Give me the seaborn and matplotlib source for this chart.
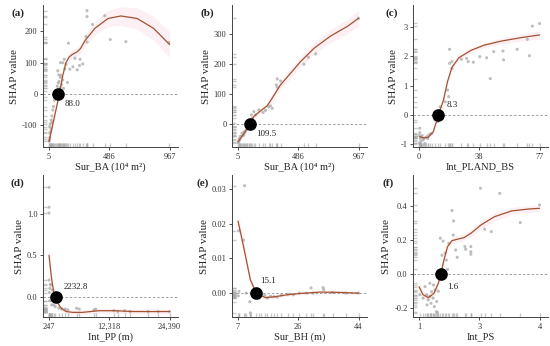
import matplotlib
matplotlib.use("Agg")
import matplotlib.pyplot as plt
import numpy as np
import seaborn as sns

# --- panel (a) Sur_BA
a_pts_x = [308, 308, 352, 450, 494, 618, 962, 160, 308, 300, 96, 114, 127, 212, 171, 196, 230, 248, 274, 253,
           152, 75, 83, 96, 114, 121, 36, 23, 10, 10, 8, 12, 18, 15, 28, 40, 48, 55, 62, 70, 78, 85, 92, 100,
           105, 130, 140, 6, 20, 30]
a_pts_y = [266, 247, 222, 250, 174, 167, 164, 162, 166, 183, 100, 100, 111, 114, 79, 87, 77, 91, 96, 111,
           37, 74, 61, 53, 45, 18, -51, -83, -104, -125, -145, -138, -120, -95, -70, -40, -20, -10, 10, 25, 35,
           40, 20, 60, 30, 80, 95, -150, -110, -90]
a_line_x = [5, 30, 60, 88, 115, 140, 165, 190, 230, 256, 295, 372, 476, 579, 708, 838, 967]
a_line_y = [-152, -106, -51, 0, 60, 100, 118, 126, 135, 145, 172, 210, 241, 249, 241, 210, 158]
a_band = [18, 12, 10, 8, 10, 12, 13, 14, 15, 15, 18, 22, 26, 30, 34, 38, 42]

# --- panel (b) Sur_BA
b_pts_x = [967, 625, 566, 531, 344, 318, 310, 318, 264, 278, 250, 224, 205, 171, 144, 131, 112, 120, 100, 90,
           80, 70, 60, 50, 37, 24, 18, 10, 6, 14, 30, 45, 55, 75, 95]
b_pts_y = [353, 234, 223, 200, 144, 151, 131, 123, 61, 53, 58, 46, 39, 48, 31, 42, 31, 20, 5, -5,
           -15, -20, -28, -35, -30, -41, -52, -58, -62, -48, -40, -38, -25, -10, -8]
b_line_x = [5, 30, 64, 99, 131, 184, 237, 278, 344, 425, 505, 612, 745, 879, 967]
b_line_y = [-58, -45, -24, 0, 26, 44, 61, 87, 131, 170, 209, 253, 294, 326, 353]
b_band = [8, 6, 5, 5, 6, 8, 10, 12, 14, 16, 18, 20, 22, 24, 26]

# --- panel (c) Int_PLAND_BS
c_pts_x = [77, 72.4, 70.5, 69.2, 62.7, 53.6, 54, 45.5, 47.7, 43.2, 38.8, 34.7, 31.4, 30.4, 27.1, 21, 19.5, 19.5,
           21, 18.2, 18.9, 16.7, 13.4, 10.2, 12, 8, 0.4, 0.2, 0.8, 1.2, 2.6, 3.7, 1.5, 0.5, 2, 3, 4.5, 5.5, 6, 7,
           0.3, 1]
c_pts_y = [3.12, 3.03, 2.02, 2.58, 2.24, 2.18, 1.88, 1.24, 2.16, 1.95, 1.99, 1.80, 1.82, 1.93, 1.90, 1.82, 2.24,
           1.76, 1.59, 0.85, 0.63, 0.45, 0.28, -0.17, -0.23, -0.63, -0.45, -0.7, -0.8, -0.9, -0.85, -0.97, -0.75,
           -0.6, -0.7, -0.8, -0.75, -0.8, -0.7, -0.65, -0.95, -1.0]
c_line_x = [0.4, 3, 5.9, 9.1, 12.4, 15.6, 18.2, 21, 25.4, 33, 41.6, 52.5, 65.5, 77]
c_line_y = [-0.74, -0.78, -0.76, -0.57, 0, 0.51, 1.14, 1.62, 1.95, 2.2, 2.38, 2.52, 2.64, 2.73]
c_band = [0.06, 0.05, 0.05, 0.06, 0.08, 0.1, 0.1, 0.1, 0.08, 0.08, 0.09, 0.1, 0.12, 0.14]

# --- panel (d) Int_PP
d_pts_x = [247, 247, 247, 247, 560, 900, 400, 700, 1200, 1500, 2200, 2800, 3500, 4000, 5774, 6300, 9262, 9600,
           13210, 14000, 15380, 16500, 20120, 22100, 24390, 300, 350, 500, 800]
d_pts_y = [1.32, 1.08, 1.01, 0.2, 0.14, 0.08, 0.1, -0.05, -0.1, -0.12, -0.14, -0.15, -0.15, -0.16, -0.14, -0.15,
           -0.16, -0.15, -0.17, -0.18, -0.17, -0.18, -0.18, -0.18, -0.18, 0.05, -0.05, 0.15, -0.1]
d_line_x = [247, 708, 1168, 1563, 2024, 2681, 3669, 5000, 6958, 10250, 13500, 17000, 20500, 24390]
d_line_y = [0.50, 0.24, 0.06, 0, -0.08, -0.14, -0.18, -0.19, -0.19, -0.17, -0.17, -0.18, -0.18, -0.18]
d_band = [0.08, 0.05, 0.04, 0.03, 0.03, 0.03, 0.03, 0.03, 0.03, 0.03, 0.03, 0.03, 0.03, 0.03]

# --- panel (e) Sur_BH
e_pts_x = [9.0, 7.2, 8.7, 10.6, 10.8, 11, 9.5, 29.4, 33.3, 33.1, 25.8, 22.3, 20.3, 17.0, 15.2, 12.5, 13.5, 14,
           16, 18, 19, 24, 28, 30, 36, 40, 44, 7.1, 7.3]
e_pts_y = [0.031, 0.018, 0.0153, -0.0025, -0.0057, 0.0, 0.0, 0.0015, 0.001, 0.0016, 0.0, -0.0003, -0.0006,
           -0.0009, -0.0006, -0.0012, -0.0015, -0.001, -0.0014, -0.001, -0.0012, -0.0005, 0.0, 0.0, 0.0002,
           0.0, 0.0, -0.0008, 0.0005]
e_line_x = [7, 8.7, 10.8, 12.6, 15.4, 17.9, 22, 26.1, 32.2, 38.4, 44]
e_line_y = [0.0208, 0.0134, 0.0038, 0, -0.0013, -0.0011, -0.0005, -0.0001, 0.0003, 0.0002, 0.0]
e_band = [0.0025, 0.002, 0.0012, 0.0008, 0.0006, 0.0005, 0.0004, 0.0004, 0.0004, 0.0004, 0.0004]

# --- panel (f) Int_PS
f_pts_x = [2.53, 3.01, 4.0, 3.52, 2.8, 2.63, 1.82, 1.86, 1.85, 1.53, 1.6, 1.74, 1.91, 1.95, 2.16, 2.29, 2.29,
           2.29, 2.14, 1.68, 1.71, 1.65, 1.57, 1.02, 1.1, 1.19, 1.23, 1.27, 1.31, 1.36, 1.4, 1.44, 1.38, 1.43,
           1.46, 1.15, 1.27, 1.3, 1.2, 1.35, 1.48]
f_pts_y = [0.506, 0.476, 0.408, 0.304, 0.251, 0.265, 0.375, 0.314, 0.231, 0.212, 0.195, 0.182, 0.143, 0.1,
           0.147, 0.163, 0.133, 0.118, 0.163, 0.084, 0.029, 0.125, 0.112, -0.12, -0.14, -0.12, -0.15, -0.13,
           -0.102, -0.063, -0.092, -0.16, -0.19, -0.22, -0.225, -0.072, -0.053, -0.17, -0.18, -0.14, -0.1]
f_line_x = [1, 1.1, 1.23, 1.37, 1.48, 1.54, 1.61, 1.71, 1.82, 1.95, 2.12, 2.29, 2.54, 2.88, 3.31, 3.73, 4.0]
f_line_y = [-0.073, -0.12, -0.137, -0.112, -0.053, 0, 0.075, 0.163, 0.198, 0.206, 0.216, 0.241, 0.29, 0.339,
            0.373, 0.384, 0.388]
f_band = [0.03, 0.025, 0.02, 0.02, 0.02, 0.02, 0.02, 0.02, 0.02, 0.02, 0.02, 0.02, 0.025, 0.025, 0.02, 0.02, 0.02]

# zero crossings and their labels
dot_x = [75, 98.5, 12.4, 1563, 12.6, 1.54]
dot_labels = ["88.0", "109.5", "8.3", "2232.8", "15.1", "1.6"]

x_labels = ["Sur_BA (10⁴ m²)", "Sur_BA (10⁴ m²)", "Int_PLAND_BS", "Int_PP (m)", "Sur_BH (m)", "Int_PS"]
panel_tags = ["(a)", "(b)", "(c)", "(d)", "(e)", "(f)"]
x_ticks = [[5, 486, 967], [5, 486, 967], [0, 38.5, 77], [247, 12318, 24390], [7, 25.5, 44], [1, 2.5, 4]]
x_ticklabels = [["5", "486", "967"], ["5", "486", "967"], ["0", "38", "77"],
                ["247", "12,318", "24,390"], ["7", "26", "44"], ["1", "3", "4"]]
y_ticks = [[-100, 0, 100, 200], [0, 100, 200, 300], [-1, 0, 1, 2, 3],
           [0.0, 0.5, 1.0], [0.00, 0.01, 0.02, 0.03], [-0.2, 0.0, 0.2, 0.4]]
y_fmt = ["{:.0f}", "{:.0f}", "{:.0f}", "{:.1f}", "{:.2f}", "{:.1f}"]
y_lims = [(-169, 284), (-76, 397), (-1.09, 3.75), (-0.246, 1.47), (-0.0069, 0.0341), (-0.251, 0.584)]

sns.set_theme(style="ticks")
plt.rcParams['font.family'] = ['Liberation Serif', 'DejaVu Serif']
plt.rcParams['axes.unicode_minus'] = False

panels = [
    (a_pts_x, a_pts_y, a_line_x, a_line_y, a_band),
    (b_pts_x, b_pts_y, b_line_x, b_line_y, b_band),
    (c_pts_x, c_pts_y, c_line_x, c_line_y, c_band),
    (d_pts_x, d_pts_y, d_line_x, d_line_y, d_band),
    (e_pts_x, e_pts_y, e_line_x, e_line_y, e_band),
    (f_pts_x, f_pts_y, f_line_x, f_line_y, f_band),
]

W, H = 550, 346
fig = plt.figure(figsize=(W / 100, H / 100), dpi=100)

lefts = [43, 232, 413]
tops = [5, 175]
tag_pos = [(18, 13), (207, 13), (392, 13), (17, 183), (203, 183), (388, 183)]
label_off = [(5, -7), (5, -7), (6, 7), (6, 7), (3, 9), (5, -9)]
line_col = "#A6512F"
pt_col = "#a8a8a8"

for i, (px, py, lx, ly, band) in enumerate(panels):
    row, col = divmod(i, 3)
    left = lefts[col]
    top = tops[row]
    ax = fig.add_axes([left / W, 1 - (top + 142) / H, 135 / W, 142 / H])

    lx = np.array(lx)
    ly = np.array(ly)
    band = np.array(band)
    ax.fill_between(lx, ly - band, ly + band, color="#f8cfdc", alpha=0.3, lw=0, zorder=1)

    ax.axhline(0, color="#a0a0a0", lw=0.7, ls=(0, (2.5, 2)), zorder=1)
    sns.scatterplot(x=px, y=py, ax=ax, color=pt_col, s=5, alpha=0.75, edgecolor="none", zorder=2)
    sns.rugplot(x=px, ax=ax, height=0.03, color=pt_col, lw=0.5, alpha=0.6)
    sns.rugplot(y=py, ax=ax, height=0.03, color=pt_col, lw=0.5, alpha=0.6)
    sns.lineplot(x=lx, y=ly, ax=ax, color=line_col, lw=0.9, zorder=3)
    ax.scatter([dot_x[i]], [0], s=65, color="black", zorder=5)
    ax.annotate(dot_labels[i], (dot_x[i], 0), xytext=label_off[i], textcoords="offset points",
                ha="left", va="center", fontsize=6.5, color="#222222")

    lo, hi = x_ticks[i][0], x_ticks[i][-1]
    r = hi - lo
    ax.set_xlim(lo - 0.05 * r, hi + 0.07 * r)
    ax.set_ylim(*y_lims[i])
    ax.set_xticks(x_ticks[i])
    ax.set_xticklabels(x_ticklabels[i])
    ax.set_yticks(y_ticks[i])
    ax.set_yticklabels([y_fmt[i].format(v) for v in y_ticks[i]])
    ax.tick_params(labelsize=6, length=2.5, width=0.6, pad=1.5, colors="#333333")
    ax.set_xlabel(x_labels[i], fontsize=7.5, labelpad=1)
    ax.set_ylabel("SHAP value", fontsize=8, labelpad=2)
    sns.despine(ax=ax)
    for s in ["left", "bottom"]:
        ax.spines[s].set_linewidth(0.7)
        ax.spines[s].set_color("#444444")

for tag, (tx, ty) in zip(panel_tags, tag_pos):
    fig.text(tx / W, 1 - ty / H, tag, fontsize=8, fontweight="bold", ha="center", va="center")

fig.savefig("out.png", dpi=100)
